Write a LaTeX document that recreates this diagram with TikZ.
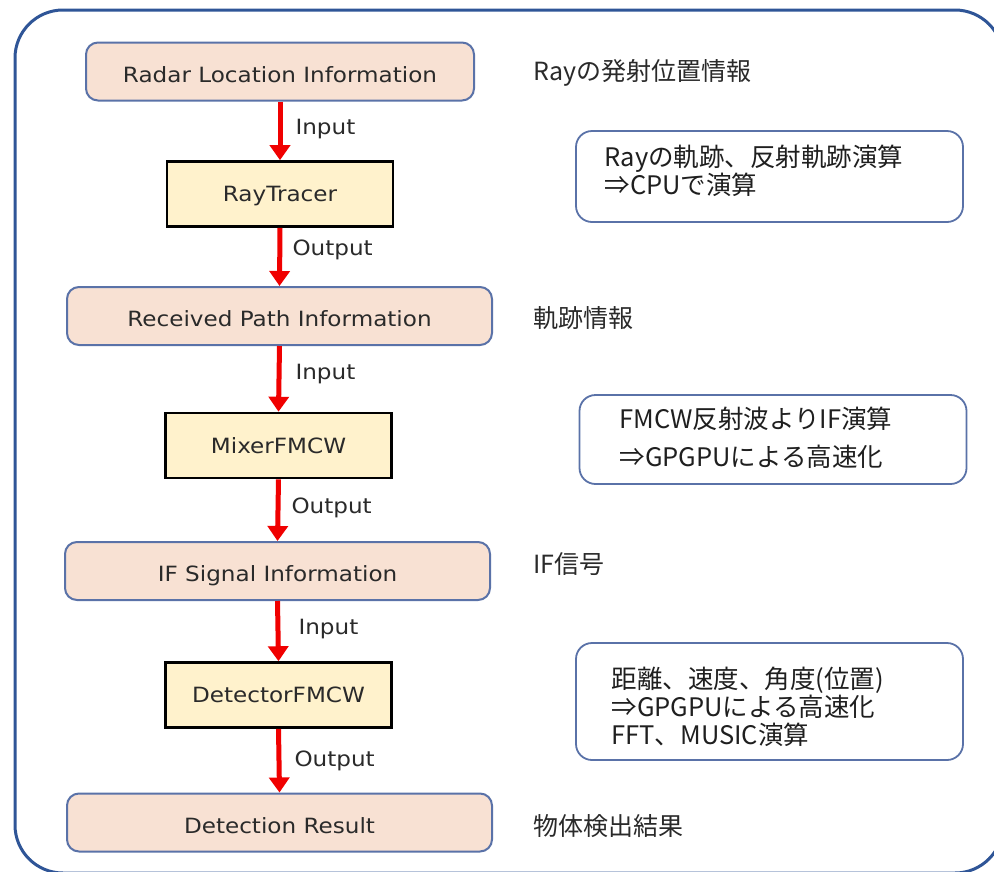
\documentclass[tikz,border=0pt]{standalone}
\usepackage{fontspec}
\setmainfont{DejaVu Sans}
\newfontfamily\verd[FakeStretch=1.1]{DejaVu Sans}
\newfontfamily\jp{Noto Sans CJK JP}
\usetikzlibrary{arrows.meta}
\definecolor{frameblue}{HTML}{2F5597}
\definecolor{pinkfill}{HTML}{F8E1D3}
\definecolor{pinkline}{HTML}{5A72A8}
\definecolor{yelfill}{HTML}{FFF2CC}
\definecolor{txt}{HTML}{2A2A2A}
\definecolor{arrred}{HTML}{F00000}
\tikzset{
  pinkbox/.style={draw=pinkline, line width=2pt, fill=pinkfill, rounded corners=12pt,
    minimum width=425pt, minimum height=58pt, inner sep=0pt, text=txt,
    text height=21pt, text depth=0pt,
    font=\verd\fontsize{21}{24}\selectfont},
  yelbox/.style={draw=black, line width=2.6pt, fill=yelfill,
    minimum width=226pt, minimum height=65pt, inner sep=0pt, text=txt,
    text height=15pt, text depth=0pt,
    font=\verd\fontsize{21}{24}\selectfont},
  notebox/.style={draw=pinkline, line width=1.8pt, rounded corners=16pt,
    minimum width=387pt, inner sep=0pt},
  flowarr/.style={draw=arrred, line width=5pt, -{Triangle[width=20pt,length=15pt]}},
  arrlabel/.style={anchor=west, text=txt, font=\verd\fontsize{21}{24}\selectfont},
  sidelabel/.style={anchor=west, text=txt, font=\jp\fontsize{25}{28}\selectfont},
  notetext/.style={anchor=north west, text=black!88, align=left,
    font=\jp\fontsize{25.5}{28}\selectfont}
}
\begin{document}
\begin{tikzpicture}[x=1pt,y=-1pt]
\useasboundingbox (0,0) rectangle (994,871);
\clip (0,0) rectangle (994,871);
\fill[white] (0,0) rectangle (994,871);
\draw[frameblue, line width=3pt, rounded corners=48pt] (15,10) rectangle (1003,873);

% left column
\node[pinkbox, minimum width=388pt] (rl) at (280,71.5) {Radar Location Information};
\node[yelbox] (rt) at (280,194) {RayTracer};
\node[pinkbox] (rp) at (279.5,316) {Received Path Information};
\node[yelbox] (mx) at (278.5,445.5) {MixerFMCW};
\node[pinkbox] (ifs) at (277.5,571) {IF Signal Information};
\node[yelbox] (dt) at (278.5,695) {DetectorFMCW};
\node[pinkbox] (dr) at (279.5,822.5) {Detection Result};

\draw[flowarr] (rl.south) -- (rt.north);
\draw[flowarr] (rt.south) -- (rp.north);
\draw[flowarr] (rp.south) -- (mx.north);
\draw[flowarr] (mx.south) -- (ifs.north);
\draw[flowarr] (ifs.south) -- (dt.north);
\draw[flowarr] (dt.south) -- (dr.north);

\node[arrlabel] (l1) at (292,129) {Input};
\node[arrlabel] (l2) at (289,250) {Output};
\node[arrlabel] (l3) at (292,374) {Input};
\node[arrlabel] (l4) at (288,508) {Output};
\node[arrlabel] (l5) at (295,629) {Input};
\node[arrlabel] (l6) at (291,761) {Output};

% right column labels
\node[sidelabel] (s1) at (530,73) {Rayの発射位置情報};
\node[sidelabel] (s2) at (530,318) {軌跡情報};
\node[sidelabel] (s3) at (530,564) {IF信号};
\node[sidelabel] (s4) at (530,826) {物体検出結果};

% note boxes
\node[notebox, minimum height=91pt] (n1) at (769.5,176.5) {};
\node[notetext] (t1) at (601,141.5) {Rayの軌跡、反射軌跡演算\\⇒CPUで演算};
\node[notebox, minimum height=89pt] (n2) at (773,439.5) {};
\node[notetext, font=\jp\fontsize{25.5}{38}\selectfont] (t2) at (616,403.5) {FMCW反射波よりIF演算\\⇒GPGPUによる高速化};
\node[notebox, minimum height=117pt] (n3) at (769.5,701.5) {};
\node[notetext] (t3) at (608,663.5) {距離、速度、角度(位置)\\⇒GPGPUによる高速化\\FFT、MUSIC演算};
\end{tikzpicture}
\end{document}
